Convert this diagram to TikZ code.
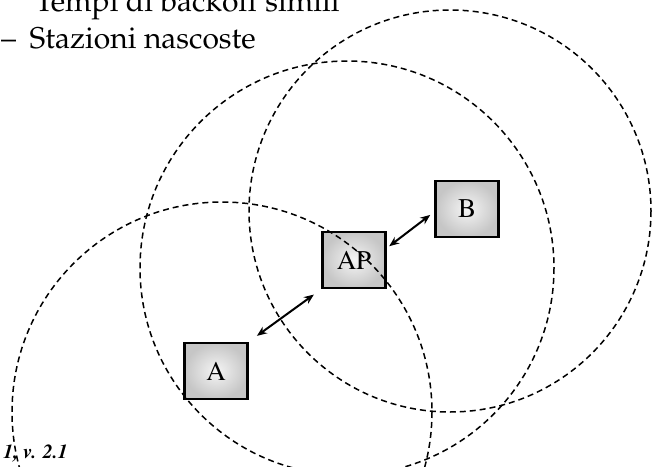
\documentclass[tikz,border=0pt]{standalone}
\usepackage[T1]{fontenc}
\usetikzlibrary{arrows.meta}

\begin{document}
\begin{tikzpicture}[x=1pt, y=-1pt,
    station/.style={draw=black, line width=2.6pt, minimum width=63pt, minimum height=56pt,
        inner color=gray!8, outer color=gray!45,
        font=\fontfamily{ptm}\fontsize{27}{27}\selectfont},
    coverage/.style={dash pattern=on 6pt off 4pt, line width=1.5pt},
    link/.style={{Stealth[length=10pt,width=8pt]}-{Stealth[length=10pt,width=8pt]}, line width=2pt},
    slide/.style={anchor=base west, inner sep=0pt, font=\fontfamily{ppl}\fontsize{30}{30}\selectfont}]
                    \useasboundingbox (0,0) rectangle (656,466);
                    \clip (0,0) rectangle (656,466);

                    % testo della slide
                    \node[slide] (tempi) at (35,11) {Tempi di backoff simili};
                    \node[slide] (stazioni) at (1,48) {--\hspace{.45em}Stazioni nascoste};
                    \node[anchor=base east, inner sep=0pt,
                          font=\fontfamily{ptm}\fontseries{b}\fontshape{it}\fontsize{20}{20}\selectfont]
                          (ver) at (68,458) {1, v. 2.1};

                    % stazioni
                    \node[station] (A) at (216,371) {A};
                    \node[station] (AP) at (354,260) {AP};
                    \node[station] (B) at (467,209) {B};

                    % raggi di copertura
                    \draw[coverage] (222,412) circle [radius=210];
                    \draw[coverage] (347,268) circle [radius=207];
                    \draw[coverage] (450,211) circle [radius=201];

                    \draw[link, shorten <=10pt, shorten >=9pt] (A.north east) -- (AP.south west);
                    \draw[link, shorten <=3pt, shorten >=5pt] (AP.20) -- (B.185);
                \end{tikzpicture}
\end{document}
